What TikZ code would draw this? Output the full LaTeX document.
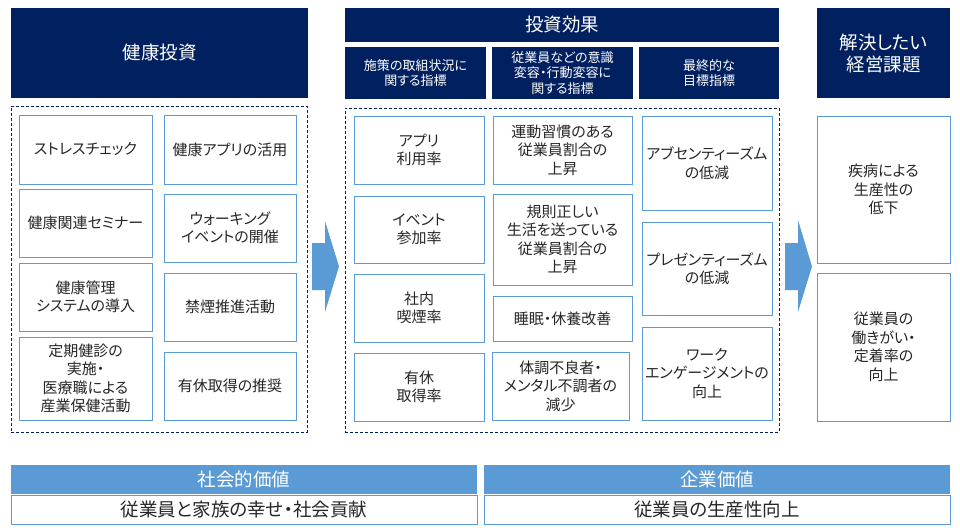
\documentclass[tikz,border=0pt]{standalone}
\usepackage{fontspec}
\setmainfont{Noto Sans CJK JP}[CharacterWidth=AlternateProportional]
\usetikzlibrary{positioning}
\definecolor{navy}{RGB}{0,32,96}
\definecolor{lightblue}{RGB}{91,155,213}
\definecolor{textgray}{RGB}{38,38,38}

\begin{document}
\begin{tikzpicture}[x=1pt,y=-1pt,
	header/.style={fill=navy, text=white, align=center, inner sep=0pt, font=\fontsize{18.5}{22}\selectfont},
	subheader/.style={fill=navy, text=white, align=center, inner sep=0pt, minimum height=52, font=\fontsize{13}{15.5}\selectfont},
	itembox/.style={draw=lightblue, line width=0.9pt, fill=white, text=textgray, align=center, inner sep=0pt, font=\fontsize{15}{18.5}\selectfont},
	dashframe/.style={draw=navy, line width=0.9pt, dash pattern=on 3pt off 2pt, inner sep=0pt},
	valuebar/.style={fill=lightblue, text=white, inner sep=0pt, minimum width=466, minimum height=29, font=\fontsize{18.5}{22}\selectfont},
	valuebox/.style={draw=lightblue, line width=0.9pt, text=textgray, inner sep=0pt, minimum width=466, minimum height=29, font=\fontsize{18.5}{22}\selectfont},
	bigarrow/.style={fill=lightblue}]
	\useasboundingbox (0,0) rectangle (960,532);

	% Kopjes
	\node[header, minimum width=297, minimum height=90] (hdinvest) at (159.5,53) {健康投資};
	\node[header, minimum width=434, minimum height=34] (hdeffect) at (562,25) {投資効果};
	\node[header, minimum width=133, minimum height=90] (hdissue) at (883.5,53) {解決したい\\経営課題};

	\node[subheader, minimum width=141] (submeasure) at (415.5,73) {施策の取組状況に\\関する指標};
	\node[subheader, minimum width=141] (subaware) at (562.5,73) {従業員などの意識\\変容・行動変容に\\関する指標};
	\node[subheader, minimum width=140] (subgoal) at (709,73) {最終的な\\目標指標};

	% Kaders (gestippeld)
	\node[dashframe, minimum width=296, minimum height=326] (frinvest) at (159,269) {};
	\node[dashframe, minimum width=434, minimum height=324] (freffect) at (562,270) {};

	% Health investment
	\node[itembox, minimum width=133, minimum height=69] (stress) at (85.5,149.5) {ストレスチェック};
	\node[itembox, minimum width=133, minimum height=68] (seminar) at (85.5,223) {健康関連セミナー};
	\node[itembox, minimum width=133, minimum height=68] (system) at (85.5,297) {健康管理\\システムの導入};
	\node[itembox, minimum width=133, minimum height=83] (checkup) at (85.5,378.5) {定期健診の\\実施・\\医療職による\\産業保健活動};

	\node[itembox, minimum width=132, minimum height=69] (app) at (230,149.5) {健康アプリの活用};
	\node[itembox, minimum width=132, minimum height=68] (walking) at (230,228) {ウォーキング\\イベントの開催};
	\node[itembox, minimum width=132, minimum height=68] (nosmoke) at (230,307) {禁煙推進活動};
	\node[itembox, minimum width=132, minimum height=68] (leave) at (230,386) {有休取得の推奨};

	% Pijl 1
	\fill[bigarrow] (312,243) -- (325,243) -- (325,221) -- (339,266.5) -- (325,312) -- (325,290) -- (312,290) -- cycle;

	% Investment effect
	\node[itembox, minimum width=130, minimum height=68] (apprate) at (419,150) {アプリ\\利用率};
	\node[itembox, minimum width=130, minimum height=67] (eventrate) at (419,229.5) {イベント\\参加率};
	\node[itembox, minimum width=130, minimum height=68] (smokerate) at (419,308) {社内\\喫煙率};
	\node[itembox, minimum width=130, minimum height=68] (leaverate) at (419,387) {有休\\取得率};

	\node[itembox, minimum width=139, minimum height=68] (exercise) at (562.5,150) {運動習慣のある\\従業員割合の\\上昇};
	\node[itembox, minimum width=139, minimum height=91] (regular) at (562.5,239.5) {規則正しい\\生活を送っている\\従業員割合の\\上昇};
	\node[itembox, minimum width=139, minimum height=45] (sleep) at (562.5,318.5) {睡眠・休養改善};
	\node[itembox, minimum width=137, minimum height=68] (unwell) at (560.5,386) {体調不良者・\\メンタル不調者の\\減少};

	\node[itembox, minimum width=130, minimum height=94] (absent) at (707,163) {アブセンティーズム\\の低減};
	\node[itembox, minimum width=130, minimum height=93] (present) at (707,268.5) {プレゼンティーズム\\の低減};
	\node[itembox, minimum width=130, minimum height=93] (engage) at (707,373.5) {ワーク\\エンゲージメントの\\向上};

	% Pijl 2
	\fill[bigarrow] (785,243) -- (798,243) -- (798,220) -- (812,266.5) -- (798,312) -- (798,290) -- (785,290) -- cycle;

	% Management issues
	\node[itembox, minimum width=133, minimum height=147] (productivity) at (883.5,189.5) {疾病による\\生産性の\\低下};
	\node[itembox, minimum width=133, minimum height=148] (retention) at (883.5,347) {従業員の\\働きがい・\\定着率の\\向上};

	% Waarden onderaan
	\node[valuebox] (socialbox) at (244,509.5) {従業員と家族の幸せ・社会貢献};
	\node[valuebar, above=0pt of socialbox] (socialbar) {社会的価値};
	\node[valuebox] (corpbox) at (717,509.5) {従業員の生産性向上};
	\node[valuebar, above=0pt of corpbox] (corpbar) {企業価値};

\end{tikzpicture}
\end{document}
